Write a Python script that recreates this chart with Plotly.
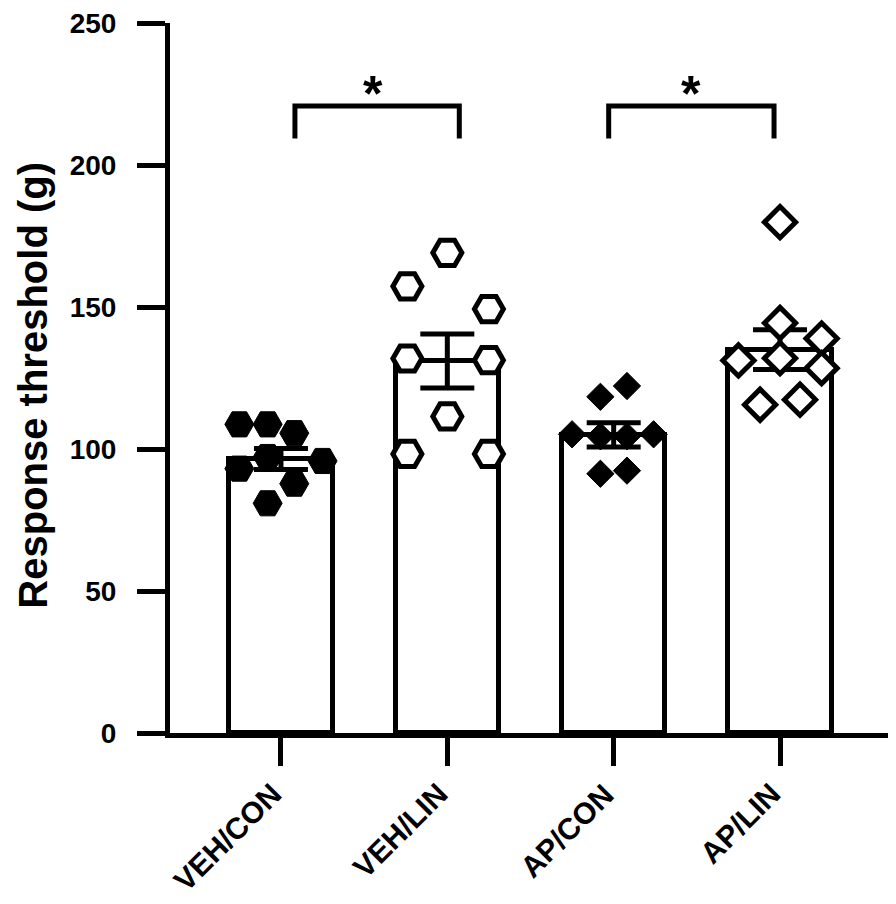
import plotly.graph_objects as go

# groups and summary values
groups = ["VEH/CON", "VEH/LIN", "AP/CON", "AP/LIN"]
means = [96.5, 131.0, 105.0, 135.0]
sems = [3.7, 9.5, 4.3, 7.0]

# individual animals (value, horizontal jitter in category units)
veh_con = [108.7, 108.7, 105.6, 93.1, 97.2, 95.8, 87.8, 80.9]
veh_con_jit = [-0.25, -0.08, 0.08, -0.25, -0.08, 0.25, 0.08, -0.08]
veh_lin = [169.1, 157.3, 149.3, 131.9, 131.3, 111.5, 98.3, 98.3]
veh_lin_jit = [0.0, -0.24, 0.25, -0.24, 0.25, 0.0, -0.24, 0.25]
ap_con = [118.4, 122.2, 105.2, 105.2, 104.5, 104.5, 91.3, 92.4]
ap_con_jit = [-0.08, 0.08, -0.25, 0.24, -0.08, 0.08, -0.08, 0.08]
ap_lin = [179.9, 144.4, 138.9, 131.2, 132.0, 128.5, 115.6, 117.4]
ap_lin_jit = [0.0, 0.0, 0.25, -0.25, 0.0, 0.25, -0.12, 0.12]

y_ticks = [0, 50, 100, 150, 200, 250]

FONT = "Arial, Liberation Sans, sans-serif"
LW = 5

fig = go.Figure()

fig.add_trace(go.Bar(
    x=list(range(len(groups))),
    y=means,
    width=0.62,
    marker=dict(color="white", line=dict(color="black", width=LW)),
    error_y=dict(type="data", array=sems, visible=True,
                 color="black", thickness=LW, width=27),
    showlegend=False,
))

points = [
    (0, veh_con, veh_con_jit, "hexagon2", "black", 29),
    (1, veh_lin, veh_lin_jit, "hexagon2", "white", 29),
    (2, ap_con, ap_con_jit, "diamond", "black", 21),
    (3, ap_lin, ap_lin_jit, "diamond", "white", 24),
]
for pos, vals, jit, sym, fill, size in points:
    fig.add_trace(go.Scatter(
        x=[pos + j for j in jit],
        y=vals,
        mode="markers",
        marker=dict(symbol=sym, color=fill, size=size,
                    line=dict(color="black", width=LW if fill == "white" else 1)),
        showlegend=False,
        cliponaxis=False,
    ))


def bracket(x0, x1, ytop, ybot):
    return dict(type="path", xref="x", yref="y",
                path=f"M {x0},{ybot} L {x0},{ytop} L {x1},{ytop} L {x1},{ybot}",
                line=dict(color="black", width=LW))


shapes = [bracket(0.084, 1.072, 220.8, 209.4), bracket(1.97, 2.964, 220.8, 209.4)]

annotations = []
for xs in (0.553, 2.463):
    annotations.append(dict(x=xs, y=225, xref="x", yref="y", text="<b>*</b>", showarrow=False,
                            font=dict(family=FONT, size=50, color="black")))

# rotated category labels, their upper-right end sitting under the tick
for i, g in enumerate(groups):
    annotations.append(dict(
        x=i, y=-0.058, xref="x", yref="paper", text=f"<b>{g}</b>", showarrow=False,
        textangle=-45, xanchor="right", yanchor="top", xshift=9,
        font=dict(family=FONT, size=30, color="black"),
    ))

annotations.append(dict(
    x=-0.19, y=0.49, xref="paper", yref="paper", text="<b>Response threshold (g)</b>",
    showarrow=False, textangle=-90, xanchor="center", yanchor="middle",
    font=dict(family=FONT, size=40, color="black"),
))

fig.update_layout(
    width=880, height=888,
    margin=dict(l=162, r=0, t=15, b=163),
    plot_bgcolor="white", paper_bgcolor="white",
    font=dict(family=FONT, color="black"),
    shapes=shapes,
    annotations=annotations,
    bargap=0,
)

fig.update_xaxes(
    range=[-0.667, 3.649],
    tickvals=list(range(len(groups))),
    showticklabels=False,
    automargin=False,
    showline=True, linecolor="black", linewidth=LW,
    ticks="outside", ticklen=28, tickwidth=LW, tickcolor="black",
    showgrid=False, zeroline=False,
)
fig.update_yaxes(
    range=[0, 250.05],
    tickvals=y_ticks,
    ticktext=[f"<b>{t}</b>" for t in y_ticks],
    tickfont=dict(size=28, family=FONT, color="black"),
    ticklabelstandoff=15,
    ticklabeloverflow="allow",
    automargin=False,
    showline=True, linecolor="black", linewidth=LW,
    ticks="outside", ticklen=28, tickwidth=LW, tickcolor="black",
    showgrid=False, zeroline=False,
)

fig.write_html("out.html")
